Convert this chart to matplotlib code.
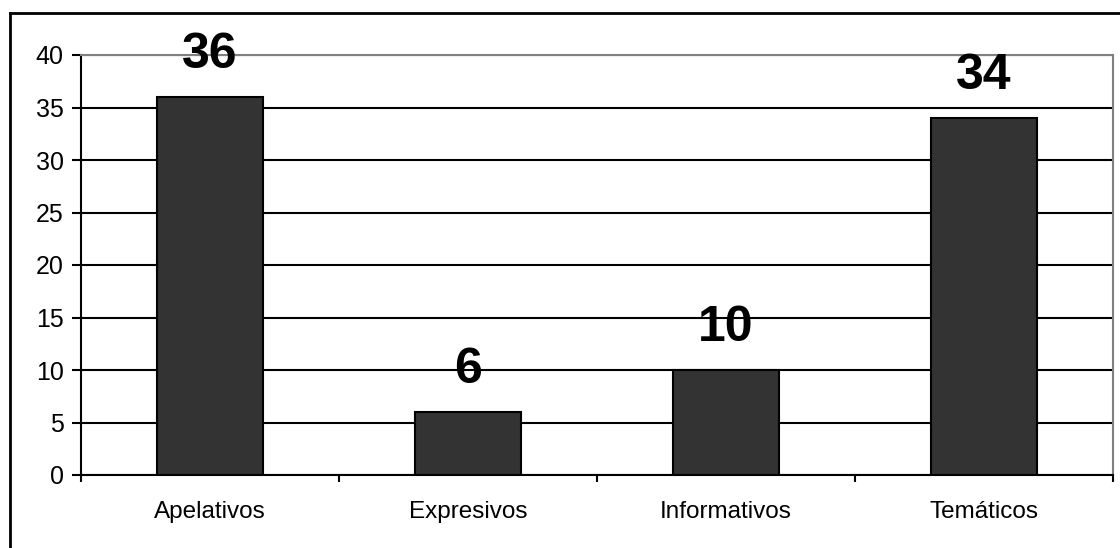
import matplotlib
matplotlib.use("Agg")
import matplotlib.pyplot as plt
from matplotlib.lines import Line2D
import numpy as np

categories = ["Apelativos", "Expresivos", "Informativos", "Temáticos"]
values = [36, 6, 10, 34]
yticks = [0, 5, 10, 15, 20, 25, 30, 35, 40]

plt.rcParams['font.family'] = ['Liberation Sans', 'DejaVu Sans']

W, H = 1120, 548
fig = plt.figure(figsize=(W / 100, H / 100), dpi=100)
L, R, T, B = 81, 1113, 55, 475
ax = fig.add_axes([L / W, 1 - B / H, (R - L) / W, (B - T) / H])

x = np.arange(len(categories))
ax.bar(x, values, width=0.41, color="#333333", edgecolor="black", linewidth=1.5, zorder=3)

ax.set_xlim(-0.5, len(categories) - 0.5)
ax.set_ylim(0, 40)
ax.set_yticks(yticks)
ax.set_yticklabels([str(v) for v in yticks], fontsize=18)
ax.yaxis.grid(True, color="black", linewidth=1.5, zorder=1)
ax.set_axisbelow(True)

ax.set_xticks(np.arange(len(categories) + 1) - 0.5)
ax.set_xticklabels([])
ax.set_xticks(x, minor=True)
ax.set_xticklabels(categories, minor=True, fontsize=17.5)
ax.tick_params(axis='x', which='minor', length=0, pad=19)
ax.tick_params(axis='x', which='major', length=5, width=1.5, direction='out', color='black')
ax.tick_params(axis='y', length=6.5, width=1.5, direction='out', pad=6)

for side in ['top', 'right']:
    ax.spines[side].set_color('#808080')
    ax.spines[side].set_linewidth(1.5)
for side in ['left', 'bottom']:
    ax.spines[side].set_color('black')
    ax.spines[side].set_linewidth(1.5)

for xi, v in zip(x, values):
    ax.annotate(str(v), (xi, v), xytext=(0, 14), textcoords='offset points',
                ha='center', va='bottom', fontsize=36, fontweight='bold', zorder=5)

# outer chart border (partly clipped by the image edge)
fig.add_artist(Line2D([10 / W, 1.0], [1 - 13 / H, 1 - 13 / H], transform=fig.transFigure,
                      color='black', linewidth=2))
fig.add_artist(Line2D([10 / W, 10 / W], [0.0, 1 - 13 / H], transform=fig.transFigure,
                      color='black', linewidth=2))

fig.savefig("out.png", dpi=100, facecolor='white')
